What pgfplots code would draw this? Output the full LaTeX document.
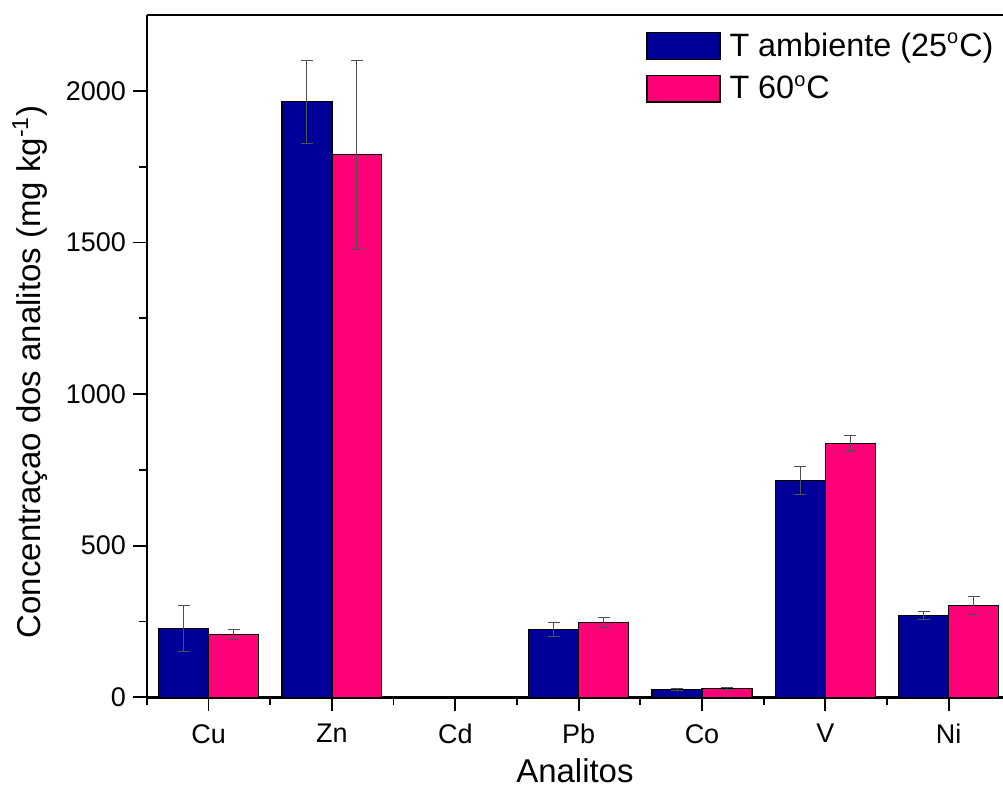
\documentclass[border=0pt]{standalone}
\usepackage{fontspec}
\setmainfont{Liberation Sans}
\usepackage{pgfplots}
\pgfplotsset{compat=1.18}
\definecolor{navy}{RGB}{0,0,153}
\definecolor{hotpink}{RGB}{255,0,120}
\definecolor{errgray}{RGB}{80,80,80}

\pgfplotsset{
  errbars/.style={
    error bars/.cd, y dir=both, y explicit,
    error bar style={errgray, line width=0.5pt},
    error mark options={rotate=90, mark size=3pt, errgray, line width=0.5pt},
  },
}
\newcommand{\dg}{\textsuperscript{\fontsize{10}{10}\selectfont o}}

\begin{document}
\begin{tikzpicture}
  \begin{axis}[
      scale only axis, width=428.5pt, height=341.5pt,
      ybar, bar width=0.405,
      xmin=0.5, xmax=7.44, ymin=0, ymax=2250,
      axis lines*=left,
      axis line style={line width=1.2pt},
      xtick={1,...,7}, xticklabels={Cu,Zn,Cd,Pb,Co,V,Ni},
      minor xtick={0.5,1.5,...,6.5},
      ytick={0,500,...,2000}, minor ytick={250,750,1250,1750},
      tick align=outside, major tick length=7pt, minor tick length=4pt,
      every tick/.style={black, line width=0.9pt},
      tick label style={font=\fontsize{13.5}{16}\selectfont},
      xticklabel style={yshift=-3pt},
      /pgf/number format/assume math mode=true,
      /pgf/number format/1000 sep={},
      label style={font=\fontsize{16.5}{20}\selectfont},
      xlabel={Analitos},
      xlabel style={at={(axis description cs:0.5,-0.108)}, anchor=center},
      ylabel={Concentraçao dos analitos (mg kg\textsuperscript{-1})},
      ylabel style={at={(axis description cs:-0.1365,0.477)}, anchor=center},
      legend style={at={(axis description cs:0.583,0.98)}, anchor=north west,
        draw=none, fill=none, inner sep=0pt, row sep=4pt,
        font=\fontsize{16.2}{20}\selectfont,
        /tikz/every odd column/.append style={column sep=2.5pt}},
      legend cell align=left,
      legend image code/.code={\draw[#1, draw=black, line width=0.6pt] (0pt,-6.75pt) rectangle (36.5pt,6.75pt);},
    ]
    \addplot[fill=navy, draw=black, line width=0.6pt, bar shift=-0.2025, errbars]
      coordinates {
        (1,227) +- (0,75)
        (2,1964) +- (0,137)
        (4,224) +- (0,24)
        (5,26) +- (0,3)
        (6,715) +- (0,47)
        (7,270) +- (0,13)
      };
    \addlegendentry{T ambiente (25\dg C)}
    \addplot[fill=hotpink, draw=black, line width=0.6pt, bar shift=0.2025, errbars]
      coordinates {
        (1,207) +- (0,18)
        (2,1789) +- (0,312)
        (4,247) +- (0,17)
        (5,30) +- (0,3)
        (6,837) +- (0,25)
        (7,303) +- (0,30)
      };
    \addlegendentry{T 60\dg C}
    \draw[line width=1.2pt] (rel axis cs:0,1) -- (rel axis cs:1,1);
    \coordinate (bl) at (rel axis cs:0,0);
    \coordinate (tr) at (rel axis cs:1,1);
  \end{axis}
  \pgfresetboundingbox
  \useasboundingbox ([xshift=-73.5pt,yshift=-46.5pt]bl) rectangle ([yshift=7.5pt]tr);
\end{tikzpicture}
\end{document}
